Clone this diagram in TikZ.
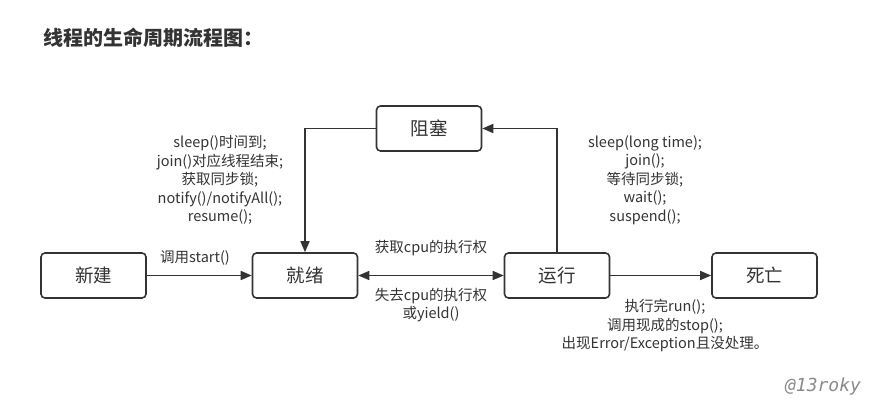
\documentclass[tikz,border=0pt]{standalone}
\usepackage{fontspec}
\setmainfont{Noto Sans CJK SC}
\newfontfamily\markfont{DejaVu Sans Mono}
\usetikzlibrary{arrows.meta}
\definecolor{inkgray}{HTML}{333333}
\definecolor{markgray}{HTML}{8A8A8A}
\begin{document}
\begin{tikzpicture}[x=1pt,y=-1pt,
  state/.style={draw=inkgray,line width=1.6pt,rounded corners=4pt,
    minimum width=105pt,minimum height=45pt,
    font=\fontsize{18.5}{22}\selectfont,text=inkgray},
  lbl/.style={font=\fontsize{14.5}{18.5}\selectfont,align=center,text=inkgray},
  flow/.style={draw=inkgray,line width=1.6pt,-{Triangle[length=11pt,width=9pt]}}]
\useasboundingbox (0,0) rectangle (870,404);

% title
\node[anchor=west,inner sep=0pt,text=inkgray,font=\fontsize{20}{24}\selectfont\bfseries] (title) at (43,38) {线程的生命周期流程图：};

% states
\node[state] (new) at (93.5,275.5) {新建};
\node[state] (ready) at (305,275.5) {就绪};
\node[state] (run) at (557,275.5) {运行};
\node[state] (dead) at (764.5,275.5) {死亡};
\node[state] (block) at (429,128.5) {阻塞};

% transitions
\draw[flow] (new) -- (ready);
\draw[flow,{Triangle[length=11pt,width=9pt]}-{Triangle[length=11pt,width=9pt]}] (ready) -- (run);
\draw[flow] (run) -- (dead);
\draw[flow] (run.north) |- (block.east);
\draw[flow] (block.west) -| (ready.north);

% labels
\node[lbl] (startlbl) at (195,258) {调用start()};
\node[lbl] (getcpu) at (431,248) {获取cpu的执行权};
\node[lbl] (losecpu) at (431,305) {失去cpu的执行权\\或yield()};
\node[lbl] (wakeup) at (220,180) {sleep()时间到;\\join()对应线程结束;\\获取同步锁;\\notify()/notifyAll();\\resume();};
\node[lbl] (sleeplbl) at (645,180) {sleep(long time);\\join();\\等待同步锁;\\wait();\\suspend();};
\node[lbl] (finish) at (665,326) {执行完run();\\调用现成的stop();\\出现Error/Exception且没处理。};

% watermark
\node[text=markgray,font=\markfont\fontsize{18}{20}\selectfont\itshape] (mark) at (823,387) {@13roky};
\end{tikzpicture}
\end{document}
